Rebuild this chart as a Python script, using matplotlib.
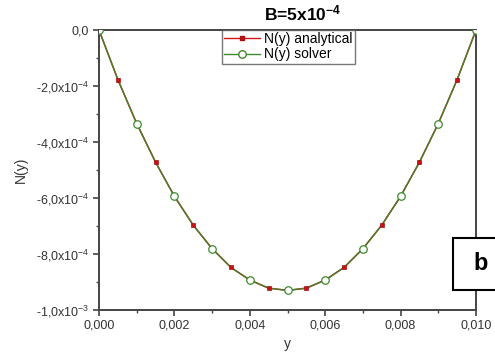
import matplotlib
matplotlib.use("Agg")
import matplotlib.pyplot as plt
from matplotlib.lines import Line2D
from matplotlib.patches import Rectangle
from matplotlib.ticker import MultipleLocator

plt.rcParams['font.family'] = ['Liberation Sans', 'DejaVu Sans']
plt.rcParams['mathtext.default'] = 'regular'

# Analytical solution sampled at cell centres
y_analytical = [0.0005, 0.0015, 0.0025, 0.0035, 0.0045,
                0.0055, 0.0065, 0.0075, 0.0085, 0.0095]
n_analytical = [-1.77e-4, -4.72e-4, -6.97e-4, -8.48e-4, -9.22e-4,
                -9.22e-4, -8.48e-4, -6.97e-4, -4.72e-4, -1.77e-4]

# Solver output at grid nodes
y_solver = [0.000, 0.001, 0.002, 0.003, 0.004, 0.005,
            0.006, 0.007, 0.008, 0.009, 0.010]
n_solver = [0.0, -3.34e-4, -5.94e-4, -7.81e-4, -8.93e-4, -9.30e-4,
            -8.93e-4, -7.81e-4, -5.94e-4, -3.34e-4, 0.0]

x_ticks = [0.000, 0.002, 0.004, 0.006, 0.008, 0.010]
x_ticklabels = ['0,000', '0,002', '0,004', '0,006', '0,008', '0,010']
y_ticks = [0.0, -2e-4, -4e-4, -6e-4, -8e-4, -1e-3]
y_ticklabels = ['0,0', '-2,0x10$^{-4}$', '-4,0x10$^{-4}$', '-6,0x10$^{-4}$',
                '-8,0x10$^{-4}$', '-1,0x10$^{-3}$']

fig = plt.figure(figsize=(4.95, 3.56), dpi=100)
ax = fig.add_axes([99 / 495, 1 - 310 / 356, 377 / 495, 280 / 356])

# Curve through all samples of both series
pts = sorted(zip(y_analytical + y_solver, n_analytical + n_solver))
line_y = [p[0] for p in pts]
line_n = [p[1] for p in pts]

red = '#d41515'
green = '#3f8a2e'
ax.plot(line_y, line_n, color=red, lw=1.0, zorder=2)
ax.plot(line_y, line_n, color='#4e7a2a', lw=1.1, zorder=3)
ax.plot(y_analytical, n_analytical, ls='none', marker='s', ms=3.0,
        mfc='#c81212', mec='#a01010', mew=0.5, zorder=5)
ax.plot(y_solver, n_solver, ls='none', marker='o', ms=5.4,
        mfc='white', mec=green, mew=0.9, zorder=4)

ax.set_xlim(0, 0.010)
ax.set_ylim(-1e-3, 0)
ax.set_xticks(x_ticks)
ax.set_xticklabels(x_ticklabels)
ax.set_yticks(y_ticks)
ax.set_yticklabels(y_ticklabels)
ax.xaxis.set_minor_locator(MultipleLocator(0.001))
ax.yaxis.set_minor_locator(MultipleLocator(1e-4))
ax.tick_params(which='major', direction='out', length=4, width=1.2,
               colors='#444444', labelsize=9, labelcolor='#333333', pad=3)
ax.tick_params(which='minor', direction='out', length=2.5, width=1.0,
               colors='#444444')
for s in ax.spines.values():
    s.set_linewidth(1.4)
    s.set_color('#444444')

ax.set_xlabel('y', fontsize=10, color='#333333', labelpad=4)
ax.set_ylabel('N(y)', fontsize=10, color='#333333', labelpad=6)

fig.text(303 / 495, 1 - 13 / 356, 'B=5x10$^{-4}$', fontsize=12.5,
         fontweight='bold', ha='center', va='center')

handles = [
    Line2D([], [], color=red, lw=1.0, marker='s', ms=3.0, mfc='#c81212',
           mec='#a01010'),
    Line2D([], [], color=green, lw=1.0, marker='o', ms=5.4, mfc='white',
           mec=green),
]
leg = ax.legend(handles, ['N(y) analytical', 'N(y) solver'],
                loc='upper left', bbox_to_anchor=(0.326, 1.0),
                fontsize=10, frameon=True, fancybox=False,
                borderpad=0.15, handlelength=2.6, handletextpad=0.3,
                labelspacing=0.1, borderaxespad=0)
leg.get_frame().set_edgecolor('#555555')
leg.get_frame().set_linewidth(1.0)

# Panel tag box
fig.patches.append(Rectangle((453 / 495, 1 - 290 / 356), 60 / 495, 52 / 356,
                             transform=fig.transFigure, fc='white',
                             ec='black', lw=1.5, zorder=10))
fig.text(481 / 495, 1 - 264 / 356, 'b', fontsize=17, fontweight='bold',
         ha='center', va='center', zorder=11)

fig.savefig('out.png', dpi=100)
